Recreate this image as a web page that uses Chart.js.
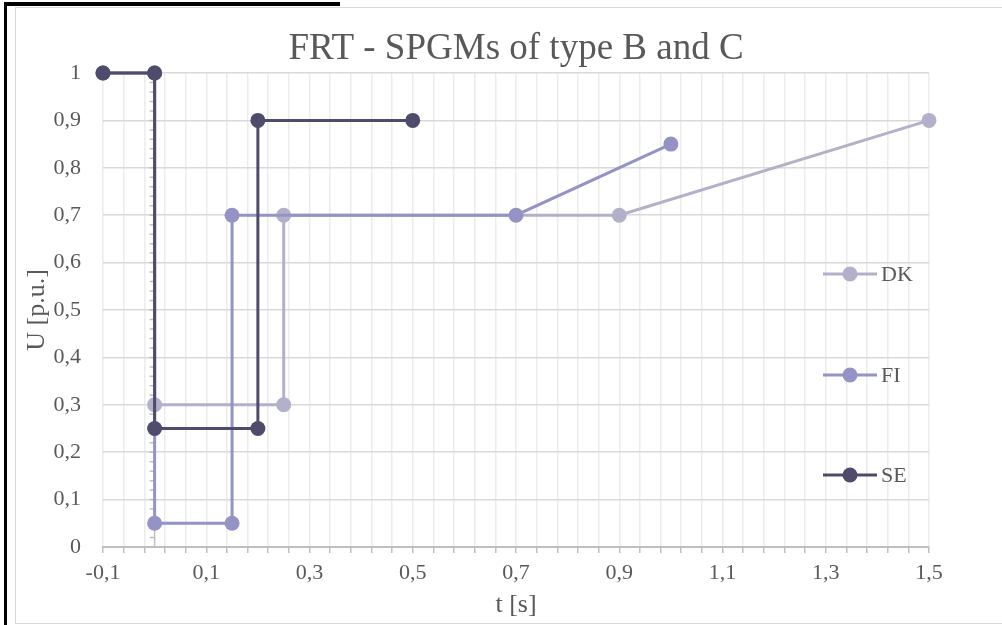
<!DOCTYPE html>
<html>
<head>
<meta charset="utf-8">
<script src="https://cdn.jsdelivr.net/npm/chart.js@4/dist/chart.umd.min.js"></script>
<style>
  body { margin: 0; background: #fff; }
  #wrap { position: relative; width: 1002px; height: 625px; overflow: hidden; }
  #frame { position: absolute; left: 15px; top: 7px; width: 1000px; height: 615px; border: 1px solid #d9d9d9; }
  #barTop { position: absolute; left: 4px; top: 2px; width: 336px; height: 4px; background: #000; }
  #barLeft { position: absolute; left: 4px; top: 2px; width: 3px; height: 623px; background: #000; }
  canvas { position: absolute; left: 0; top: 0; }
</style>
</head>
<body>
<div id="wrap">
  <div id="frame"></div>
  <canvas id="myChart" width="1002" height="625"></canvas>
  <div id="barTop"></div>
  <div id="barLeft"></div>
</div>
<script>
// data: t [s], U [p.u.]
const seriesNames = ['DK', 'FI', 'SE'];
const dkT = [-0.1, 0, 0, 0.25, 0.25, 0.9, 1.5];
const dkU = [1, 1, 0.3, 0.3, 0.7, 0.7, 0.9];
const fiT = [-0.1, 0, 0, 0.15, 0.15, 0.7, 1.0];
const fiU = [1, 1, 0.05, 0.05, 0.7, 0.7, 0.85];
const seT = [-0.1, 0, 0, 0.2, 0.2, 0.5];
const seU = [1, 1, 0.25, 0.25, 0.9, 0.9];
const seriesColors = ['#b3b1c9', '#9593c5', '#4e4b6d'];

const FONT = "'Liberation Serif', 'Times New Roman', serif";
const TEXT = '#595959';

function toPoints(ts, us) {
    return ts.map((t, i) => ({ x: t, y: us[i] }));
}

// 0.1 -> "0,1", 1 -> "1"
function fmt(v) {
    return parseFloat(v.toFixed(2)).toString().replace('.', ',');
}

function makeSet(i, ts, us, order) {
    return {
        label: seriesNames[i],
        data: toPoints(ts, us),
        showLine: true,
        borderColor: seriesColors[i],
        backgroundColor: seriesColors[i],
        borderWidth: 3,
        pointRadius: 7.5,
        pointHoverRadius: 7.5,
        pointBorderWidth: 0,
        clip: false,
        order: order
    };
}

// vertical axis crossing at t = 0 with small tick marks
const zeroAxis = {
    id: 'zeroAxis',
    beforeDatasetsDraw(chart) {
        const ctx = chart.ctx;
        const xs = chart.scales.x, ys = chart.scales.y;
        const x0 = xs.getPixelForValue(0);
        ctx.save();
        ctx.strokeStyle = '#bfbfbf';
        ctx.lineWidth = 1.5;
        ctx.beginPath();
        ctx.moveTo(x0, ys.getPixelForValue(0));
        ctx.lineTo(x0, ys.getPixelForValue(1));
        for (let k = 0; k <= 50; k++) {
            const py = ys.getPixelForValue(k * 0.02);
            ctx.moveTo(x0 - 5, py);
            ctx.lineTo(x0, py);
        }
        ctx.stroke();
        ctx.restore();
    }
};

// legend at the right, inside the plot
const sideLegend = {
    id: 'sideLegend',
    afterDraw(chart) {
        const ctx = chart.ctx;
        const rows = [274, 375, 475];
        ctx.save();
        chart.data.datasets.forEach((ds, i) => {
            const y = rows[i];
            ctx.strokeStyle = ds.borderColor;
            ctx.lineWidth = 3;
            ctx.beginPath();
            ctx.moveTo(823, y);
            ctx.lineTo(877, y);
            ctx.stroke();
            ctx.fillStyle = ds.backgroundColor;
            ctx.beginPath();
            ctx.arc(850, y, 7.5, 0, Math.PI * 2);
            ctx.fill();
            ctx.fillStyle = TEXT;
            ctx.font = '22px ' + FONT;
            ctx.textAlign = 'left';
            ctx.textBaseline = 'middle';
            ctx.fillText(ds.label, 881, y + 1);
        });
        ctx.restore();
    }
};

const ctx = document.getElementById('myChart').getContext('2d');
const myChart = new Chart(ctx, {
    type: 'scatter',
    data: {
        datasets: [
            makeSet(0, dkT, dkU, 3),
            makeSet(1, fiT, fiU, 2),
            makeSet(2, seT, seU, 1)
        ]
    },
    options: {
        responsive: false,
        animation: false,
        layout: { padding: { left: 15, top: 7, right: 73, bottom: 3 } },
        plugins: {
            legend: { display: false },
            tooltip: { enabled: false },
            title: {
                display: true,
                fullSize: false,
                text: 'FRT - SPGMs of type B and C',
                color: TEXT,
                font: { family: FONT, size: 37, weight: 'normal', lineHeight: 1.2 },
                padding: { top: 20, bottom: 1.6 }
            }
        },
        scales: {
            x: {
                type: 'linear',
                min: -0.1,
                max: 1.5,
                afterFit: s => { s.height = 75; },
                ticks: {
                    stepSize: 0.04,
                    autoSkip: false,
                    maxRotation: 0,
                    color: TEXT,
                    padding: 7,
                    font: { family: FONT, size: 22 },
                    callback: (v, i) => (i % 5 === 0 ? fmt(v) : '')
                },
                grid: { color: '#ececec', lineWidth: 1.5, tickColor: '#bfbfbf', tickLength: 6 },
                border: { color: '#bfbfbf', width: 2 },
                title: {
                    display: true,
                    text: 't [s]',
                    color: TEXT,
                    font: { family: FONT, size: 26 },
                    padding: { top: 0, bottom: 1 }
                }
            },
            y: {
                min: 0,
                max: 1,
                afterFit: s => { s.width = 88; },
                ticks: {
                    stepSize: 0.1,
                    color: TEXT,
                    padding: 22,
                    font: { family: FONT, size: 22 },
                    callback: v => fmt(v)
                },
                grid: { color: '#d9d9d9', lineWidth: 1.5, drawTicks: false },
                border: { display: false },
                title: {
                    display: true,
                    text: 'U [p.u.]',
                    color: TEXT,
                    font: { family: FONT, size: 26 },
                    padding: { top: 7, bottom: 0 }
                }
            }
        }
    },
    plugins: [zeroAxis, sideLegend]
});
</script>
</body>
</html>
